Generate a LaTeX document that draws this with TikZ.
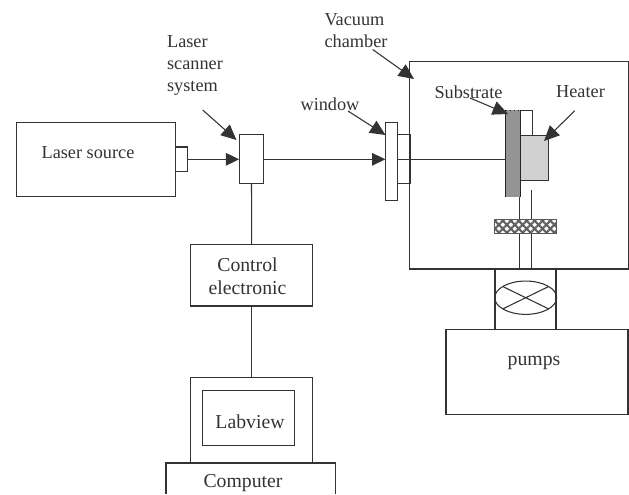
\documentclass[tikz,border=0pt]{standalone}
\usepackage{fontspec}
\setmainfont{Liberation Serif}
\usetikzlibrary{arrows.meta,patterns.meta,shapes.geometric}
\definecolor{inkdark}{HTML}{333333}
\tikzset{
  boxnode/.style={draw=inkdark,line width=0.8pt,inner sep=0pt,outer sep=0pt},
  txtnode/.style={inner sep=0pt,text=inkdark,align=left,font=\fontsize{13.7}{16.5}\selectfont},
  bigtxtnode/.style={txtnode,align=center,font=\fontsize{14.8}{17}\selectfont},
  wire/.style={draw=inkdark,line width=0.8pt},
  arrowline/.style={wire,-{Triangle[length=10pt,width=9.5pt]}},
  pointer/.style={wire,-{Triangle[length=11.5pt,width=10.5pt]}},
}
\begin{document}
\begin{tikzpicture}[x=0.75pt,y=0.75pt,yscale=-1,xscale=1]
\useasboundingbox (0,0) rectangle (629,494);

%Boxes of the laser side
\node [boxnode,minimum width=119.25pt,minimum height=55pt] (laser) at (95.75,159.5) {};
\node [boxnode,minimum width=9pt,minimum height=18.5pt] (nozzle) at (181.75,159.3) {};
\node [boxnode,minimum width=18.5pt,minimum height=36.75pt] (scanner) at (251.5,159.3) {};
\node [boxnode,minimum width=91.5pt,minimum height=46pt] (control) at (251.7,275.3) {};
\node [boxnode,minimum width=91.5pt,minimum height=64pt] (monitor) at (251.7,420.5) {};
\node [boxnode,minimum width=69pt,minimum height=41.25pt] (labview) at (248.7,418.2) {};

%Chamber and window
\node [boxnode,minimum width=164pt,minimum height=155.5pt] (chamber) at (519,165.3) {};
\node [boxnode,minimum width=9.25pt,minimum height=36.75pt] (flange) at (404,159.3) {};
\node [boxnode,fill=white,minimum width=9.25pt,minimum height=58.5pt] (plate) at (391.5,161.7) {};

%Sample stage
\coordinate (shaftL) at (519.2,269);
\coordinate (shaftR) at (531.7,269);
\coordinate (shaftLtop) at (519.2,190);
\coordinate (shaftRtop) at (531.7,190);
\draw [wire] (shaftLtop) -- (shaftL) (shaftRtop) -- (shaftR);
\node [boxnode,minimum width=9.25pt,minimum height=19pt] (holder) at (526,122.7) {};
\node [boxnode,fill=black!18,minimum width=21.5pt,minimum height=34pt] (heater) at (534.5,157.7) {};
\node [inner sep=0pt,outer sep=0pt,fill=black!42,minimum width=10.8pt,minimum height=65pt] (substrate) at (513,153.6) {};
\draw [line width=1pt,black!85] (substrate.north west) -- (substrate.south west) (substrate.north east) -- (substrate.south east);
\draw [line width=1pt,black!85,dotted] (substrate.north west) -- (substrate.north east);
\node [draw=black!65,line width=0.7pt,inner sep=0pt,outer sep=0pt,minimum width=47pt,minimum height=10.5pt,
  preaction={fill=white},
  preaction={pattern={Lines[angle=45,distance=4.2pt,line width=1.6pt]},pattern color=black!62},
  pattern={Lines[angle=-45,distance=4.2pt,line width=1.6pt]},pattern color=black!62] (seal) at (525.5,226) {};

%Valve and pumps
\node [boxnode,minimum width=45.75pt,minimum height=45.5pt] (valvebox) at (525.5,299.4) {};
\node [draw=inkdark,line width=0.8pt,ellipse,inner sep=0pt,outer sep=0pt,minimum width=46.5pt,minimum height=25pt] (valve) at (525.7,297.7) {};
\draw [wire] (valve.154) -- (valve.-26) (valve.26) -- (valve.206);
\node [boxnode,minimum width=136.5pt,minimum height=63.25pt] (pumps) at (537,371.9) {};

%Computer, open at the bottom of the page
\coordinate (compBL) at (166,494);
\coordinate (compTL) at (166,463);
\coordinate (compTR) at (335.7,463);
\coordinate (compBR) at (335.7,494);
\draw [wire] (compBL) -- (compTL) -- (compTR) -- (compBR);

%Connections
\draw [arrowline] (nozzle.east) -- (scanner.west);
\draw [arrowline] (scanner.east) -- (scanner.east -| plate.west);
\draw [wire] (scanner.east -| plate.east) -- (scanner.east -| substrate.west);
\draw [wire] (scanner.south) -- (control.north);
\draw [wire] (control.south) -- (monitor.north);

%Pointers
\coordinate (scannerTail) at (202.7,110);
\coordinate (scannerTip) at (236.5,140);
\coordinate (windowTail) at (348,111);
\coordinate (windowTip) at (385.5,135);
\coordinate (chamberTail) at (372.7,49.5);
\coordinate (chamberTip) at (414,79);
\coordinate (substrateTail) at (470,98);
\coordinate (substrateTip) at (508,114);
\coordinate (heaterTail) at (574.7,110.7);
\coordinate (heaterTip) at (544,141);
\draw [pointer] (scannerTail) -- (scannerTip);
\draw [pointer] (windowTail) -- (windowTip);
\draw [pointer] (chamberTail) -- (chamberTip);
\draw [pointer] (substrateTail) -- (substrateTip);
\draw [pointer] (heaterTail) -- (heaterTip);

% Text Node
\node [txtnode] (laserText) at (88,153) {Laser source};
\node [txtnode] (scannerText) at (195,65.5) {Laser\\scanner\\system};
\node [txtnode] (vacuumText) at (356,30.5) {Vacuum\\chamber};
\node [txtnode] (windowText) at (330,104.5) {window};
\node [txtnode] (substrateText) at (468.5,92) {Substrate};
\node [txtnode] (heaterText) at (580.5,92) {Heater};
\node [bigtxtnode] (controlText) at (247.5,276) {Control\\electronic};
\node [bigtxtnode] (labviewText) at (250,421.5) {Labview};
\node [bigtxtnode] (computerText) at (243,483) {Computer};
\node [bigtxtnode] (pumpsText) at (534,362.5) {pumps};
\end{tikzpicture}
\end{document}
